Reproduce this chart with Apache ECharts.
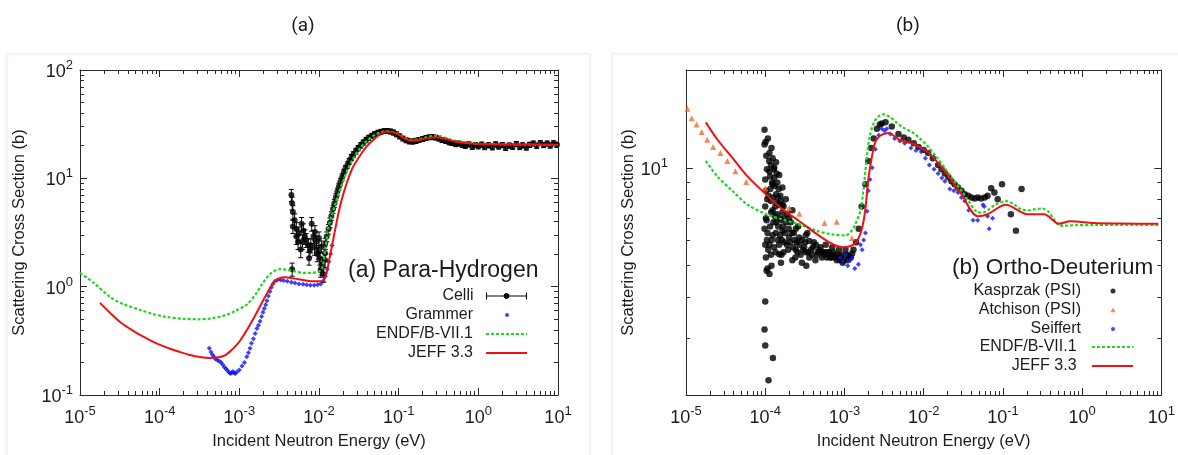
<!DOCTYPE html>
<html><head><meta charset="utf-8">
<style>html,body{margin:0;padding:0;background:#fff;}#c{width:1178px;height:455px;}</style>
<script src="https://cdn.jsdelivr.net/npm/echarts@6/dist/echarts.min.js"></script>
</head><body><div id="c"></div><script>
// ---------------- DATA: panel (a) Para-Hydrogen ----------------
// Celli: [energy eV, cross section b, error b]
const celliA = [
 [4.5e-3,7.0,0.9],[4.6e-3,5.9,0.8],[4.7e-3,4.9,0.7],[4.95e-3,4.1,0.6],[4.7e-3,3.6,0.5],[5.2e-3,2.9,0.45],
 [5.45e-3,2.6,0.4],[6.05e-3,3.8,0.55],[6.35e-3,3.3,0.5],[6.65e-3,2.9,0.45],[6.2e-3,2.6,0.4],[7.3e-3,2.43,0.35],
 [7.7e-3,2.18,0.3],[8.1e-3,3.8,0.55],[8.5e-3,2.9,0.4],[9.3e-3,2.6,0.35],[9.8e-3,2.1,0.3],[1.03e-2,1.83,0.25],
 [1.07e-2,2.34,0.3],[1.19e-2,2.03,0.3],[1.19e-2,1.76,0.25],[1.07e-2,1.48,0.2],[7.5e-3,1.83,0.25],[4.6e-3,1.45,0.2],
 [1.05e-2,1.42,0.2],[5.6e-3,3.1,0.45],[6.9e-3,2.7,0.4],[7.9e-3,2.4,0.35],[8.8e-3,2.3,0.35],[9.5e-3,2.0,0.3],
 [1.1e-2,1.6,0.25],[1.15e-2,1.3,0.2],[5.2e-3,3.4,0.5],[8.9e-3,3.2,0.45],[1.0e-2,2.8,0.4],[5.9e-3,2.2,0.35],
 [1.2e-2,2.5,0.3],[1.25e-2,2.9,0.3],[1.32e-2,3.4,0.35],[1.37e-2,3.9,0.4],[1.43e-2,4.5,0.4],[1.5e-2,5.2,0.45],
 [1.56e-2,5.9,0.5],[1.63e-2,6.7,0.5],[1.7e-2,7.5,0.6],[1.78e-2,8.4,0.6],[1.86e-2,9.3,0.7],[1.95e-2,10.3,0.7],
 [2.05e-2,11.3,0.8],[2.15e-2,12.3,0.8],[2.27e-2,13.3,0.9],[2.4e-2,14.4,0.9],[2.55e-2,15.6,1.0],[2.7e-2,16.6,1.0],
 [2.9e-2,17.8,1.1],[3.1e-2,19.0,1.1],[3.35e-2,20.2,1.2],[3.6e-2,21.4,1.2],[3.9e-2,22.6,1.3],[4.2e-2,23.7,1.3],
 [4.6e-2,24.7,1.3],[5.0e-2,25.6,1.4],[5.5e-2,26.4,1.4],[6.0e-2,26.9,1.4],[6.6e-2,27.3,1.4],[7.2e-2,27.4,1.4],
 [7.9e-2,27.1,1.4],[8.6e-2,26.5,1.4],[9.4e-2,25.5,1.3],[0.103,24.4,1.3],[0.113,23.3,1.2],[0.124,22.5,1.2],
 [0.136,22.0,1.2],[0.15,21.9,1.2],[0.165,22.2,1.2],[0.18,22.6,1.2],[0.2,23.1,1.2],[0.22,23.6,1.2],
 [0.24,23.9,1.2],[0.265,24.0,1.2],[0.29,23.8,1.2],[0.32,23.3,1.2],[0.35,22.6,1.2],[0.39,22.1,1.1],
 [0.43,21.5,1.1],[0.47,21.2,1.1],[0.52,20.7,1.1],[0.57,21.0,1.1],[0.63,20.4,1.1],[0.69,20.0,1.1],
 [0.76,20.6,1.1],[0.84,19.6,1.1],[0.92,20.3,1.1],[1.0,19.8,1.1],[1.1,20.5,1.1],[1.2,19.5,1.1],
 [1.35,20.2,1.1],[1.5,19.4,1.1],[1.65,20.6,1.1],[1.8,19.7,1.1],[2.0,20.3,1.1],[2.2,19.2,1.1],
 [2.45,20.1,1.1],[2.7,19.6,1.1],[3.0,20.8,1.1],[3.3,19.5,1.1],[3.6,20.2,1.1],[4.0,19.3,1.1],
 [4.4,20.4,1.1],[4.9,21.0,1.1],[5.4,20.0,1.1],[6.0,21.2,1.1],[6.6,20.3,1.1],[7.3,21.0,1.1],
 [8.0,20.1,1.1],[8.8,21.1,1.1],[9.7,20.4,1.1]
];
// Grammer: [energy eV, cross section b]
const grammerA = [
 [4.2e-4,0.27],[4.4e-4,0.25],[4.6e-4,0.235],[4.8e-4,0.225],[5.0e-4,0.215],[5.3e-4,0.21],[5.6e-4,0.205],
 [5.9e-4,0.20],[6.2e-4,0.19],[6.5e-4,0.18],[6.8e-4,0.175],[7.1e-4,0.168],[7.4e-4,0.162],[7.7e-4,0.158],
 [8.0e-4,0.16],[8.3e-4,0.165],[8.6e-4,0.16],[8.9e-4,0.158],[9.3e-4,0.163],[1.0e-3,0.17],[1.08e-3,0.185],
 [1.16e-3,0.20],[1.24e-3,0.225],[1.3e-3,0.245],[1.36e-3,0.27],[1.42e-3,0.30],[1.5e-3,0.33],[1.58e-3,0.37],
 [1.66e-3,0.41],[1.74e-3,0.44],[1.82e-3,0.48],[1.9e-3,0.53],[1.98e-3,0.58],[2.06e-3,0.63],[2.14e-3,0.68],
 [2.22e-3,0.74],[2.32e-3,0.82],[2.42e-3,0.90],[2.52e-3,0.98],[2.64e-3,1.06],[2.8e-3,1.12],[3.0e-3,1.15],
 [3.3e-3,1.15],[3.6e-3,1.14],[4.0e-3,1.12],[4.5e-3,1.10],[5.0e-3,1.08],[5.6e-3,1.06],[6.3e-3,1.05],
 [7.0e-3,1.04],[7.8e-3,1.03],[8.7e-3,1.03],[9.6e-3,1.04],[1.05e-2,1.06],[1.12e-2,1.12],[1.2e-2,1.25],
 [1.27e-2,1.45],[1.33e-2,1.7],[1.4e-2,2.0],[1.46e-2,2.4]
];
// ENDF/B-VII.1 (a)
const endfA = [
 [1e-5,1.34],[1.5e-5,1.08],[2.4e-5,0.80],[3.5e-5,0.69],[5.7e-5,0.61],[8.5e-5,0.555],[1.22e-4,0.525],
 [2e-4,0.505],[2.95e-4,0.50],[4.5e-4,0.51],[6.9e-4,0.55],[9e-4,0.60],[1.23e-3,0.68],[1.6e-3,0.85],
 [1.97e-3,1.08],[2.5e-3,1.33],[3.2e-3,1.45],[4e-3,1.43],[5e-3,1.38],[6.5e-3,1.34],[8e-3,1.34],
 [1e-2,1.38],[1.1e-2,1.5],[1.2e-2,2.2],[1.3e-2,3.4],[1.45e-2,4.6],[1.6e-2,5.8],[1.8e-2,7.6],
 [2.0e-2,9.4],[2.3e-2,12.2],[2.7e-2,15.3],[3.2e-2,18.6],[4e-2,22.3],[5e-2,25.2],[6e-2,26.6],
 [7e-2,27.2],[8.5e-2,26.8],[0.1,25.5],[0.12,23.6],[0.145,22.6],[0.18,23.0],[0.22,23.9],
 [0.28,24.6],[0.33,24.5],[0.4,23.5],[0.5,22.3],[0.7,21.4],[1,20.9],[2,20.6],[5,20.4],[10,20.3]
];
// JEFF 3.3 (a)
const jeffA = [
 [1.78e-5,0.708],[2.4e-5,0.57],[3.18e-5,0.472],[4.3e-5,0.405],[5.66e-5,0.358],[7.6e-5,0.32],[1.01e-4,0.29],
 [1.35e-4,0.267],[1.8e-4,0.249],[2.4e-4,0.234],[3.2e-4,0.224],[4.3e-4,0.220],[5.3e-4,0.222],[6.6e-4,0.232],
 [8e-4,0.26],[1e-3,0.31],[1.3e-3,0.42],[1.6e-3,0.55],[1.8e-3,0.65],[2.2e-3,0.85],[2.64e-3,1.07],[3.2e-3,1.2],
 [3.8e-3,1.22],[4.5e-3,1.2],[6e-3,1.16],[8e-3,1.12],[1e-2,1.12],[1.15e-2,1.15],[1.25e-2,1.35],
 [1.35e-2,1.8],[1.45e-2,2.35],[1.6e-2,3.4],[1.8e-2,5.2],[2.0e-2,7.0],[2.25e-2,9.2],[2.6e-2,12.2],
 [3.2e-2,15.8],[4e-2,19.8],[4.8e-2,22.6],[6e-2,25.8],[7.2e-2,27.0],[8.5e-2,26.6],[0.1,25.3],
 [0.12,23.3],[0.145,22.2],[0.18,22.6],[0.23,23.5],[0.3,24.0],[0.38,23.2],[0.5,22.0],[0.7,21.2],
 [1,20.8],[2,20.6],[5,20.5],[10,20.4]
];

// ---------------- DATA: panel (b) Ortho-Deuterium ----------------
const kasprzakB = [
 [9.8e-5,13.1],[9.8e-5,11.8],[1.13e-4,11.1],[1.24e-4,10.7],[1.18e-4,10.2],[1.37e-4,10.4],[1.13e-4,9.75],
 [1.3e-4,9.3],[1.5e-4,9.5],[1.24e-4,8.9],[1.02e-4,8.5],[1.37e-4,8.3],[1.65e-4,8.7],[1.18e-4,7.9],
 [1.5e-4,7.7],[1.82e-4,8.0],[1.24e-4,7.4],[1.65e-4,7.3],[1.02e-4,7.0],[9.8e-5,6.5],[1.37e-4,6.8],
 [2.0e-4,7.0],[2.2e-4,7.4],[1.24e-4,6.2],[1.65e-4,6.4],[1.13e-4,5.8],[1.5e-4,5.8],[1.18e-4,5.4],
 [1.6e-4,5.4],[1.02e-4,5.3],[2.0e-4,6.1],[2.43e-4,6.5],[2.68e-4,6.1],[3.25e-4,6.2],[3.58e-4,5.95],
 [4.35e-4,5.8],[5.27e-4,5.5],[5.8e-4,5.8],[7.0e-4,5.7],[8.5e-4,5.6],[1.03e-3,5.6],[2.43e-4,5.6],
 [3.25e-4,5.5],[5.27e-4,5.5],[1.07e-4,4.9],[1.04e-4,4.82],[1.13e-4,4.71],[1.5e-4,5.42],[1.0e-4,3.88],
 [0.98e-4,3.18],[1.0e-4,2.84],[1.25e-4,2.6],[1.1e-4,2.22],
 [1.08e-4,12.3],[1.2e-4,11.5],[1.28e-4,9.9],[1.42e-4,9.0],[1.55e-4,8.2],[1.7e-4,7.6],[1.9e-4,7.2],
 [2.1e-4,6.8],[2.3e-4,6.3],[2.6e-4,6.6],[2.9e-4,6.0],[3.1e-4,5.7],[3.4e-4,6.3],[3.8e-4,5.6],
 [4.1e-4,5.9],[4.6e-4,5.5],[5e-4,5.7],[5.5e-4,5.4],[6.2e-4,5.5],[6.6e-4,5.3],[7.5e-4,5.4],
 [8e-4,5.2],[9e-4,5.3],[9.5e-4,5.1],[1.1e-3,5.2],[1.2e-3,5.3],[1.15e-4,6.6],[1.05e-4,6.0],
 [1.33e-4,7.1],[1.45e-4,6.0],[1.6e-4,6.9],[1.75e-4,5.9],[1.95e-4,5.6],[2.2e-4,5.2],[2.5e-4,5.9],
 [2.8e-4,5.4],[3.6e-4,5.3],[4.3e-4,5.2],[1.1e-4,8.2],[1.3e-4,10.0],[1.4e-4,7.8],[1.48e-4,8.6],
 [1.01e-4,12.0],[1.03e-4,10.9],[1.05e-4,9.9],[1.0e-4,9.2],[1.06e-4,8.0],[1.0e-4,7.6],[1.04e-4,6.9],
 [1.07e-4,6.3],[1.0e-4,5.8],[1.09e-4,5.6],[1.12e-4,10.5],[1.15e-4,9.4],[1.16e-4,8.6],[1.19e-4,7.3],
 [1.21e-4,6.0],[1.22e-4,9.0],[1.26e-4,8.1],[1.27e-4,6.8],[1.29e-4,5.7],[1.32e-4,8.8],[1.34e-4,7.6],
 [1.36e-4,6.3],[1.39e-4,9.6],[1.41e-4,7.2],[1.44e-4,8.1],[1.46e-4,6.6],[1.52e-4,7.0],[1.54e-4,6.2],
 [1.57e-4,7.9],[1.62e-4,6.0],[1.66e-4,7.7],[1.68e-4,6.6],[1.72e-4,7.0],[1.78e-4,6.3],[1.85e-4,6.8],
 [1.88e-4,5.8],[1.98e-4,6.5],[2.05e-4,5.9],[2.15e-4,6.3],[2.25e-4,5.7],[2.35e-4,6.0],[2.55e-4,5.5],
 [2.7e-4,5.8],[3.0e-4,5.6],[3.2e-4,5.9],[3.5e-4,5.5],[3.9e-4,5.4],[4.0e-4,5.7],[4.5e-4,5.4],
 [4.8e-4,5.6],[5.2e-4,5.3],[5.7e-4,5.5],[6.0e-4,5.3],[6.4e-4,5.5],[6.9e-4,5.3],[7.2e-4,5.5],
 [7.8e-4,5.3],[8.3e-4,5.4],[8.8e-4,5.2],[9.2e-4,5.4],[9.8e-4,5.2],[1.06e-3,5.4],[1.15e-3,5.35],
 [1.25e-3,5.45],[1.58e-4,5.1],[1.7e-4,5.5],[2.4e-4,5.3],[2.9e-4,5.1],[3.3e-4,5.0],[1.35e-4,5.5],
 [1.2e-4,5.0],
 [1.3e-3,5.6],[1.4e-3,5.9],[1.51e-3,6.5],[1.65e-3,7.6],[1.84e-3,8.9],[2.0e-3,10.5],[2.17e-3,11.5],
 [2.34e-3,12.3],[2.57e-3,13.2],[2.8e-3,13.6],[2.96e-3,13.7],[3.3e-3,13.8],[3.96e-3,13.4],[4.8e-3,12.7],
 [5.6e-3,12.4],[6.4e-3,12.2],[7.5e-3,11.9],[8.6e-3,11.6],[1.0e-2,11.35],[1.14e-2,11.1],[1.3e-2,10.7],
 [1.52e-2,10.2],[1.68e-2,9.9],[1.85e-2,9.6],[2.05e-2,9.35],[2.24e-2,9.1],[2.45e-2,8.9],[2.7e-2,8.7],
 [3.0e-2,8.5],[3.3e-2,8.3],[3.65e-2,8.2],[4.0e-2,8.1],[4.4e-2,8.05],[4.8e-2,8.1],[5.3e-2,8.05],
 [5.9e-2,8.1],[6.4e-2,8.2],[7.1e-2,8.66],[7.8e-2,8.4],[8.6e-2,8.0],[9.75e-2,8.9],[0.126,7.2],
 [0.146,6.4],[0.172,8.6]
];
const atchisonB = [
 [1.04e-5,15.2],[1.18e-5,14.2],[1.36e-5,13.6],[1.58e-5,12.9],[1.85e-5,12.2],[2.2e-5,11.6],[2.72e-5,11.1],
 [3.33e-5,10.5],[4.2e-5,9.76],[5.75e-5,9.04],[1.0e-4,8.66],[2.0e-4,7.53],[2.7e-4,7.22],[5.6e-4,6.77],
 [8.0e-4,6.82],[1.24e-3,6.08]
];
const seiffertB = [
 [8.9e-4,5.3],[9.5e-4,5.15],[1.03e-3,5.4],[1.1e-3,5.0],[1.18e-3,5.2],[1.25e-3,5.3],[1.35e-3,4.9],
 [1.5e-3,5.05],[1.59e-3,5.8],[1.67e-3,5.6],[1.75e-3,6.0],[1.84e-3,6.3],[1.93e-3,7.35],[2.0e-3,8.5],
 [2.1e-3,9.2],[2.24e-3,10.0],[2.45e-3,11.4],[2.71e-3,12.6],[2.96e-3,13.2],[3.2e-3,13.0],[3.41e-3,13.2],
 [3.8e-3,12.7],[4.3e-3,12.3],[5.0e-3,12.1],[5.76e-3,11.9],[6.9e-3,11.5],[8.0e-3,11.3],[9.3e-3,11.2],
 [1.05e-2,10.7],[1.18e-2,10.2],[1.35e-2,9.9],[1.52e-2,9.6],[1.7e-2,9.3],[1.85e-2,9.1],[2.14e-2,8.6],
 [2.4e-2,8.5],[2.7e-2,8.4],[3.0e-2,8.1],[3.3e-2,7.9],[3.7e-2,7.4],[4.2e-2,6.9],[4.8e-2,6.9],
 [5.6e-2,7.7],[5.8e-2,7.6],[6.4e-2,7.1],[6.7e-2,6.5],[7.4e-2,7.0]
];
const endfB = [
 [1.78e-5,10.5],[2.5e-5,9.4],[3.9e-5,8.47],[6e-5,7.7],[1.03e-4,7.2],[1.6e-4,6.95],[2.7e-4,6.7],
 [4.5e-4,6.4],[7.0e-4,6.24],[1.03e-3,6.2],[1.2e-3,6.35],[1.37e-3,6.7],[1.59e-3,7.4],[1.75e-3,8.7],
 [1.93e-3,11.0],[2.1e-3,12.6],[2.4e-3,13.9],[2.8e-3,14.5],[3.2e-3,14.6],[3.8e-3,14.3],[4.5e-3,13.8],
 [5.5e-3,13.3],[7.1e-3,12.9],[9e-3,12.3],[1.14e-2,11.6],[1.45e-2,10.8],[1.85e-2,10.0],[2.35e-2,9.2],
 [3.0e-2,8.5],[3.8e-2,7.8],[4.8e-2,7.3],[5.6e-2,7.28],[6.4e-2,7.4],[8e-2,7.7],[0.109,7.9],
 [0.14,7.7],[0.17,7.45],[0.204,7.4],[0.25,7.45],[0.31,7.5],[0.37,7.35],[0.44,6.95],[0.51,6.66],
 [0.6,6.64],[0.8,6.66],[1.5,6.67],[5,6.68],[9.5,6.68]
];
const jeffB = [
 [1.78e-5,13.8],[2.5e-5,12.2],[3.9e-5,10.7],[6e-5,9.4],[1.03e-4,8.28],[1.6e-4,7.5],[2.7e-4,6.85],
 [4.5e-4,6.25],[6.95e-4,5.84],[9.4e-4,5.7],[1.2e-3,5.75],[1.4e-3,5.9],[1.6e-3,6.3],[1.75e-3,6.9],
 [1.84e-3,7.5],[2.0e-3,9.2],[2.1e-3,10.0],[2.3e-3,11.3],[2.45e-3,12.0],[2.75e-3,12.5],[3.1e-3,12.7],
 [3.6e-3,12.8],[4.3e-3,12.5],[5.2e-3,12.1],[7.1e-3,11.9],[1.0e-2,11.4],[1.14e-2,11.2],[1.85e-2,9.75],
 [3.0e-2,8.28],[4.8e-2,7.1],[6.4e-2,7.2],[0.109,7.7],[0.204,7.2],[0.33,7.2],[0.51,6.73],[0.71,6.85],
 [1.4,6.76],[3,6.74],[9.1,6.73]
];

// ---------------- AXIS TICKS ----------------
const xTickExps = [-5,-4,-3,-2,-1,0,1];
const aYTickExps = [-1,0,1,2];
const bYTickExps = [1];
const minorMultipliers = [2,3,4,5,6,7,8,9];

function minorTicks(lo, hi) {
  const out = [];
  for (let e = Math.floor(lo); e < Math.ceil(hi); e++)
    for (const m of minorMultipliers) {
      const v = e + Math.log10(m);
      if (v > lo + 1e-9 && v < hi - 1e-9) out.push(v);
    }
  return out;
}

const FONT = "'Liberation Sans', Arial, Helvetica, sans-serif";
const INK = '#1c1c1c';
const AX = '#2a2a2a';
const rich = {
  b: {fontSize: 18, fontFamily: FONT, color: INK, lineHeight: 22, verticalAlign: 'bottom'},
  s: {fontSize: 13, fontFamily: FONT, color: INK, lineHeight: 22, verticalAlign: 'top'}
};
const powFmt = v => '{b|10}{s|' + Math.round(v) + '}';

function axesFor(dim, g, lo, hi, majors, opt) {
  const pos = dim === 'x' ? ['bottom', 'top'] : ['left', 'right'];
  const minors = minorTicks(lo, hi);
  const base = {type: 'value', gridIndex: g, min: lo, max: hi, splitLine: {show: false}, silent: true};
  const list = [];
  pos.forEach((p, i) => {
    list.push(Object.assign({}, base, {
      position: p,
      axisLine: {show: true, onZero: false, lineStyle: {color: AX, width: 1}},
      axisTick: {show: true, inside: true, length: 7, customValues: majors, lineStyle: {color: AX}},
      axisLabel: i === 0 ? {show: true, customValues: majors, formatter: powFmt, rich: rich, margin: opt.margin} : {show: false},
      name: i === 0 ? opt.name : '',
      nameLocation: 'middle',
      nameGap: opt.nameGap,
      nameTextStyle: {fontSize: 16.5, fontFamily: FONT, color: INK}
    }));
    list.push(Object.assign({}, base, {
      position: p,
      axisLine: {show: false, onZero: false},
      axisTick: {show: true, inside: true, length: 4, customValues: minors, lineStyle: {color: AX}},
      axisLabel: {show: false}
    }));
  });
  return list;
}

const grids = [
  {left: 80, top: 70, width: 478, height: 325},
  {left: 686, top: 70, width: 479, height: 325}
];

const xAxes = [
  {type: 'log', gridIndex: 0, min: 1e-5, max: 10, show: false},
  ...axesFor('x', 0, -5, 1, xTickExps, {name: 'Incident Neutron Energy (eV)', nameGap: 38, margin: 10}),
  {type: 'log', gridIndex: 1, min: 1e-5, max: 10, show: false},
  ...axesFor('x', 1, -5, 1, xTickExps, {name: 'Incident Neutron Energy (eV)', nameGap: 38, margin: 10})
];
const yAxes = [
  {type: 'log', gridIndex: 0, min: 0.1, max: 100, show: false},
  ...axesFor('y', 0, -1, 2, aYTickExps, {name: 'Scattering Cross Section (b)', nameGap: 52, margin: 7}),
  {type: 'log', gridIndex: 1, min: 2, max: 20, show: false},
  ...axesFor('y', 1, Math.log10(2), Math.log10(20), bYTickExps, {name: 'Scattering Cross Section (b)', nameGap: 43, margin: 18})
];

const errBarRender = (params, api) => {
  const x = api.value(0), y = api.value(1), e = api.value(2);
  const lo = api.coord([x, y - e]), hi = api.coord([x, y + e]);
  const st = {stroke: '#000', lineWidth: 1};
  return {type: 'group', children: [
    {type: 'line', shape: {x1: lo[0], y1: lo[1], x2: hi[0], y2: hi[1]}, style: st},
    {type: 'line', shape: {x1: lo[0] - 2.5, y1: lo[1], x2: lo[0] + 2.5, y2: lo[1]}, style: st},
    {type: 'line', shape: {x1: hi[0] - 2.5, y1: hi[1], x2: hi[0] + 2.5, y2: hi[1]}, style: st}
  ]};
};

const GREEN = '#22d422', RED = '#ee1111', BLUE = '#1010ff', ORANGE = '#f06a28';
const lineSeries = (name, data, xi, yi, color, dashed) => ({
  name, type: 'line', data, xAxisIndex: xi, yAxisIndex: yi, showSymbol: false, symbol: 'none',
  smooth: 0.3, lineStyle: {color, width: dashed ? 2.2 : 2, type: dashed ? [3, 2] : 'solid'},
  itemStyle: {color}, z: 5
});

const series = [
  {name: 'Celli', type: 'custom', xAxisIndex: 0, yAxisIndex: 0, data: celliA, renderItem: errBarRender,
   encode: {x: 0, y: 1}, z: 2, clip: true},
  {name: 'Celli', type: 'scatter', xAxisIndex: 0, yAxisIndex: 0, data: celliA.map(d => [d[0], d[1]]),
   symbol: 'circle', symbolSize: 6, itemStyle: {color: '#000'}, z: 3},
  {name: 'Grammer', type: 'scatter', xAxisIndex: 0, yAxisIndex: 0, data: grammerA,
   symbol: 'diamond', symbolSize: 5, itemStyle: {color: BLUE}, z: 4},
  lineSeries('ENDF/B-VII.1', endfA, 0, 0, GREEN, true),
  lineSeries('JEFF 3.3', jeffA, 0, 0, RED, false),
  {name: 'Kasprzak (PSI)', type: 'scatter', xAxisIndex: 5, yAxisIndex: 5, data: kasprzakB,
   symbol: 'circle', symbolSize: 6.5, itemStyle: {color: '#000'}, z: 3},
  {name: 'Atchison (PSI)', type: 'scatter', xAxisIndex: 5, yAxisIndex: 5, data: atchisonB,
   symbol: 'triangle', symbolSize: 6, itemStyle: {color: ORANGE}, z: 3},
  {name: 'Seiffert', type: 'scatter', xAxisIndex: 5, yAxisIndex: 5, data: seiffertB,
   symbol: 'diamond', symbolSize: 5, itemStyle: {color: BLUE}, z: 4},
  lineSeries('ENDF/B-VII.1 ', endfB, 5, 5, GREEN, true),
  lineSeries('JEFF 3.3 ', jeffB, 5, 5, RED, false)
];

// legend icons: every icon box has the same width (W) with a leading blank gap (G),
// a zero-area guide line fixes the box so the mark sits at its intended place.
function dashIcon(G, L) {
  let p = 'path://M0,1L' + (G + L) + ',1';
  for (let x = 0; x < L; x += 5) { const w = Math.min(3, L - x); p += 'M' + (G + x) + ',0h' + w + 'v2h-' + w + 'Z'; }
  return p;
}
const solidIcon = (G, L) => 'path://M0,1L' + (G + L) + ',1M' + G + ',0h' + L + 'v2h-' + L + 'Z';
const dotIcon = (W, cx, r) => 'path://M0,' + r + 'L' + W + ',' + r + 'M' + (cx - r) + ',' + r +
  'a' + r + ',' + r + ' 0 1,0 ' + (2 * r) + ',0a' + r + ',' + r + ' 0 1,0 -' + (2 * r) + ',0';
const triIcon = (W, cx) => 'path://M0,4.4L' + W + ',4.4M' + cx + ',0L' + (cx + 2.6) + ',4.4L' + (cx - 2.6) + ',4.4Z';
const celliIcon = 'path://M0,0L0,7M0,3.5L40,3.5M40,0L40,7M17.5,3.5a2.5,2.5 0 1,0 5,0a2.5,2.5 0 1,0 -5,0';

const legendRow = (item, right, top, w, h, padR) => ({
  data: [item], right, top, align: 'right', orient: 'vertical', itemWidth: w, itemHeight: h,
  selectedMode: false, padding: 0, symbolKeepAspect: false,
  textStyle: {fontSize: 16, fontFamily: FONT, color: INK, padding: [0, padR, 0, 0]}
});
const noBorder = {borderWidth: 0};
const legends = [
  legendRow({name: 'Celli', icon: celliIcon, itemStyle: {color: '#000', borderColor: '#000', borderWidth: 1}}, 651, 288, 40, 7, 8),
  legendRow({name: 'Grammer', icon: dotIcon(49, 29, 2), itemStyle: noBorder}, 651, 307, 49, 4, 0),
  legendRow({name: 'ENDF/B-VII.1', icon: dashIcon(8, 41), itemStyle: noBorder}, 651, 326, 49, 2, 0),
  legendRow({name: 'JEFF 3.3', icon: solidIcon(8, 41), itemStyle: noBorder}, 651, 345, 49, 2, 0),
  legendRow({name: 'Kasprzak (PSI)', icon: dotIcon(47, 27, 2.5), itemStyle: noBorder}, 45, 283, 47, 5, 0),
  legendRow({name: 'Atchison (PSI)', icon: triIcon(47, 27), itemStyle: noBorder}, 45, 302, 47, 4.4, 0),
  legendRow({name: 'Seiffert', icon: dotIcon(47, 27, 2), itemStyle: noBorder}, 45, 321, 47, 4, 0),
  legendRow({name: 'ENDF/B-VII.1 ', icon: dashIcon(6, 41), itemStyle: noBorder}, 45, 339, 47, 2, 0),
  legendRow({name: 'JEFF 3.3 ', icon: solidIcon(6, 41), itemStyle: noBorder}, 45, 358, 47, 2, 0)
];

const titles = [
  {text: '(a)', left: 298, top: 12, textAlign: 'center', textStyle: {fontSize: 19, fontWeight: 'normal', fontFamily: "Roboto, 'Noto Sans', sans-serif", color: INK}},
  {text: '(b)', left: 903, top: 12, textAlign: 'center', textStyle: {fontSize: 19, fontWeight: 'normal', fontFamily: "Roboto, 'Noto Sans', sans-serif", color: INK}},
  {text: '(a) Para-Hydrogen', left: 343, top: 254, textStyle: {fontSize: 23, fontWeight: 'normal', fontFamily: FONT, color: INK}},
  {text: '(b) Ortho-Deuterium', left: 947, top: 251, textStyle: {fontSize: 22.5, fontWeight: 'normal', fontFamily: FONT, color: INK}}
];

const chart = echarts.init(document.getElementById('c'), null, {renderer: 'canvas'});
chart.setOption({
  animation: false,
  backgroundColor: '#fff',
  graphic: [
    {type: 'rect', z: -10, silent: true, shape: {x: 7, y: 54, width: 583, height: 420},
     style: {fill: '#fff', stroke: '#ededed', lineWidth: 1, shadowBlur: 4, shadowColor: 'rgba(0,0,0,0.06)'}},
    {type: 'rect', z: -10, silent: true, shape: {x: 612, y: 54, width: 580, height: 420},
     style: {fill: '#fff', stroke: '#ededed', lineWidth: 1, shadowBlur: 4, shadowColor: 'rgba(0,0,0,0.06)'}}
  ],
  title: titles,
  legend: legends,
  grid: grids,
  xAxis: xAxes,
  yAxis: yAxes,
  series
});
</script></body></html>
